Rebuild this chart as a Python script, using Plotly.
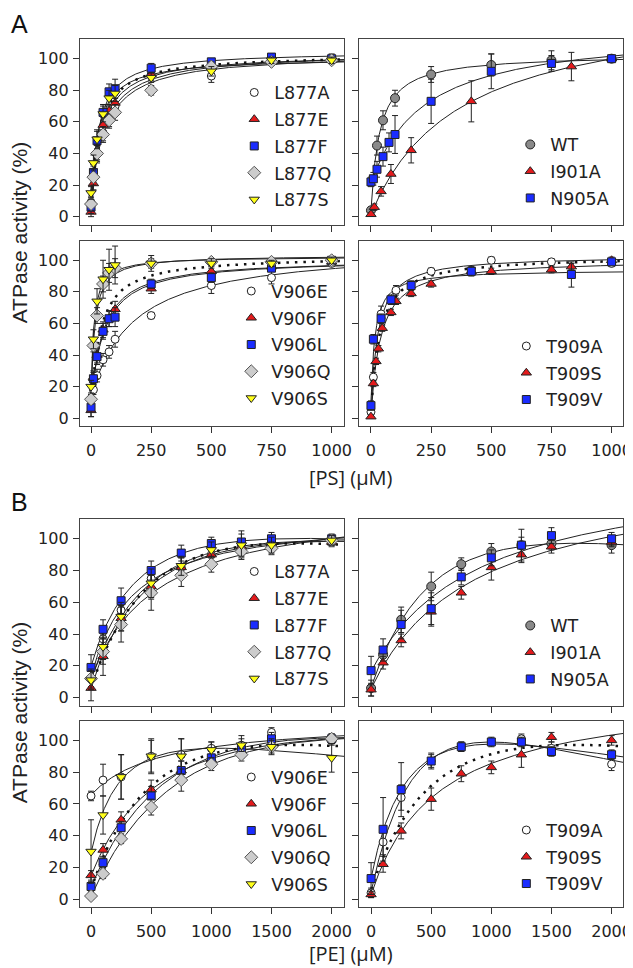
import numpy as np
import plotly.graph_objects as go

# ---------------- data ----------------
# Section A : [PS] (µM)
ps_x = [0, 10, 25, 50, 75, 100, 250, 500, 750, 1000]

L877A_ps = [9, 27, 40, 53, 62, 70, 90, 89, 100, 100]
L877A_ps_err = [4, 5, 5, 5, 5, 5, 4, 4, 3, 3]
L877E_ps = [3, 21, 41, 58, 67, 72, 90, 95, 98, 99]
L877E_ps_err = [3, 4, 5, 5, 4, 5, 3, 3, 2, 2]
L877F_ps = [6, 28, 48, 66, 79, 81, 94, 98, 101, 100]
L877F_ps_err = [4, 5, 6, 5, 5, 6, 3, 2, 2, 2]
L877Q_ps = [8, 25, 40, 52, 61, 66, 80, 95, 98, 99]
L877Q_ps_err = [4, 5, 6, 5, 5, 5, 3, 3, 2, 2]
L877S_ps = [15, 34, 49, 65, 75, 78, 88, 92, 99, 99]
L877S_ps_err = [4, 5, 6, 5, 5, 5, 3, 3, 2, 2]

WT_ps_x = [0, 25, 50, 100, 250, 500, 750, 1000]
WT_ps = [4, 45, 61, 75, 90, 96, 99, 100]
WT_ps_err = [2, 6, 6, 5, 5, 7, 6, 1]
I901A_ps_x = [0, 14, 42, 83, 167, 417, 833, 1000]
I901A_ps = [1.5, 6, 16, 27, 42, 73, 95, 100]
I901A_ps_err = [1, 2, 3, 6, 8, 13, 9, 1]
N905A_ps = [22, 24, 30, 38, 47, 52, 73, 92, 97, 100]
N905A_ps_err = [3, 4, 5, 6, 6, 12, 14, 11, 5, 1]

V906E_ps = [12, 18, 27, 37, 42, 50, 65, 84, 89, 98]
V906E_ps_err = [3, 3, 4, 4, 4, 5, 2, 5, 4, 2]
V906F_ps = [5, 26, 40, 56, 63, 69, 82, 93, 96, 99]
V906F_ps_err = [4, 4, 5, 5, 5, 5, 3, 3, 2, 2]
V906L_ps = [7, 25, 39, 55, 63, 64, 85, 89, 95, 100]
V906L_ps_err = [6, 4, 5, 5, 5, 6, 3, 3, 2, 2]
V906Q_ps = [12, 46, 65, 85, 92, 95, 98, 99, 99, 100]
V906Q_ps_err = [3, 4, 5, 5, 6, 6, 3, 2, 2, 2]
V906S_ps = [20, 50, 74, 88, 94, 97, 98, 98, 98, 100]
V906S_ps_err = [4, 6, 8, 12, 13, 12, 5, 3, 2, 2]

T909A_ps_x = [0, 10, 42, 104, 250, 500, 750, 1000]
T909A_ps = [4, 26, 66, 81, 93, 100, 99, 98]
T909A_ps_err = [2, 3, 5, 3, 2, 2, 2, 2]
T909S_ps_x = [0, 10, 21, 31, 47, 83, 104, 167, 250, 417, 500, 750, 833, 1000]
T909S_ps = [1, 22, 36, 44, 57, 67, 74, 79, 85, 93, 93, 94, 96, 100]
T909S_ps_err = [1, 2, 2, 2, 2, 2, 2, 2, 2, 2, 2, 2, 2, 2]
T909V_ps_x = [0, 10, 42, 83, 167, 417, 833, 1000]
T909V_ps = [8, 50, 63, 75, 84, 93, 91, 99]
T909V_ps_err = [3, 3, 3, 3, 3, 3, 8, 2]

# Section B : [PE] (µM)
pe_x = [0, 100, 250, 500, 750, 1000, 1250, 1500, 2000]

L877A_pe = [12, 37, 55, 75, 82, 90, 93, 97, 99]
L877A_pe_err = [5, 6, 7, 7, 6, 5, 5, 4, 3]
L877E_pe = [6, 26, 50, 70, 82, 90, 95, 97, 98]
L877E_pe_err = [8, 12, 8, 8, 6, 5, 5, 4, 3]
L877F_pe = [19, 43, 61, 80, 91, 97, 98, 100, 100]
L877F_pe_err = [8, 6, 8, 6, 5, 4, 7, 4, 3]
L877Q_pe = [12, 29, 46, 66, 77, 84, 92, 94, 99]
L877Q_pe_err = [6, 8, 11, 11, 7, 5, 5, 4, 3]
L877S_pe = [11, 32, 51, 72, 83, 93, 96, 96, 99]
L877S_pe_err = [6, 8, 9, 9, 6, 5, 7, 5, 3]

WT_pe = [6, 27, 49, 70, 84, 92, 96, 97, 96]
WT_pe_err = [5, 5, 8, 9, 4, 5, 5, 4, 5]
I901A_pe = [5, 22, 36, 54, 66, 82, 90, 95, 98]
I901A_pe_err = [4, 4, 4, 9, 4, 8, 5, 4, 3]
N905A_pe = [17, 30, 46, 56, 76, 88, 96, 102, 100]
N905A_pe_err = [9, 7, 9, 10, 5, 5, 10, 5, 4]

V906E_pe = [65, 75, 77, 90, 91, 95, 97, 105, 100]
V906E_pe_err = [3, 10, 14, 10, 10, 4, 6, 3, 3]
V906F_pe = [15, 31, 50, 69, 81, 88, 93, 98, 101]
V906F_pe_err = [3, 4, 5, 6, 6, 5, 4, 4, 3]
V906L_pe = [8, 23, 45, 65, 81, 89, 94, 101, 101]
V906L_pe_err = [3, 3, 4, 6, 6, 5, 4, 4, 3]
V906Q_pe = [2, 16, 38, 58, 75, 85, 91, 96, 101]
V906Q_pe_err = [2, 3, 3, 5, 7, 4, 4, 4, 3]
V906S_pe = [30, 53, 77, 90, 90, 94, 97, 96, 89]
V906S_pe_err = [20, 12, 14, 11, 11, 5, 4, 5, 9]

T909A_pe = [4, 36, 64, 87, 96, 99, 101, 95, 85]
T909A_pe_err = [3, 8, 8, 4, 3, 3, 3, 4, 4]
T909S_pe = [3, 22, 43, 63, 79, 83, 91, 102, 100]
T909S_pe_err = [2, 5, 5, 7, 5, 4, 8, 3, 3]
T909V_pe = [13, 44, 69, 87, 96, 99, 99, 93, 91]
T909V_pe_err = [10, 20, 17, 5, 3, 2, 3, 3, 3]

y_ticks = [0, 20, 40, 60, 80, 100]
ps_ticks = [0, 250, 500, 750, 1000]
pe_ticks = [0, 500, 1000, 1500, 2000]

# ---------------- styles ----------------
STY = {
    'open':   dict(symbol='circle', size=8, color='white', line=dict(color='#222', width=1)),
    'wt':     dict(symbol='circle', size=9, color='#8a8a8a', line=dict(color='#222', width=1)),
    'red':    dict(symbol='triangle-up', size=9, color='#e41a1c', line=dict(color='#222', width=1)),
    'blue':   dict(symbol='square', size=8, color='#1a2cff', line=dict(color='#222', width=1)),
    'gray':   dict(symbol='diamond', size=10, color='#cccccc', line=dict(color='#555', width=1)),
    'yellow': dict(symbol='triangle-down', size=9, color='#ffff1a', line=dict(color='#222', width=1)),
}

panels = [
    [('L877A', ps_x, L877A_ps, L877A_ps_err, 'open'), ('L877E', ps_x, L877E_ps, L877E_ps_err, 'red'),
     ('L877F', ps_x, L877F_ps, L877F_ps_err, 'blue'), ('L877Q', ps_x, L877Q_ps, L877Q_ps_err, 'gray'),
     ('L877S', ps_x, L877S_ps, L877S_ps_err, 'yellow')],
    [('WT', WT_ps_x, WT_ps, WT_ps_err, 'wt'), ('I901A', I901A_ps_x, I901A_ps, I901A_ps_err, 'red'),
     ('N905A', ps_x, N905A_ps, N905A_ps_err, 'blue')],
    [('V906E', ps_x, V906E_ps, V906E_ps_err, 'open'), ('V906F', ps_x, V906F_ps, V906F_ps_err, 'red'),
     ('V906L', ps_x, V906L_ps, V906L_ps_err, 'blue'), ('V906Q', ps_x, V906Q_ps, V906Q_ps_err, 'gray'),
     ('V906S', ps_x, V906S_ps, V906S_ps_err, 'yellow')],
    [('T909A', T909A_ps_x, T909A_ps, T909A_ps_err, 'open'), ('T909S', T909S_ps_x, T909S_ps, T909S_ps_err, 'red'),
     ('T909V', T909V_ps_x, T909V_ps, T909V_ps_err, 'blue')],
    [('L877A', pe_x, L877A_pe, L877A_pe_err, 'open'), ('L877E', pe_x, L877E_pe, L877E_pe_err, 'red'),
     ('L877F', pe_x, L877F_pe, L877F_pe_err, 'blue'), ('L877Q', pe_x, L877Q_pe, L877Q_pe_err, 'gray'),
     ('L877S', pe_x, L877S_pe, L877S_pe_err, 'yellow')],
    [('WT', pe_x, WT_pe, WT_pe_err, 'wt'), ('I901A', pe_x, I901A_pe, I901A_pe_err, 'red'),
     ('N905A', pe_x, N905A_pe, N905A_pe_err, 'blue')],
    [('V906E', pe_x, V906E_pe, V906E_pe_err, 'open'), ('V906F', pe_x, V906F_pe, V906F_pe_err, 'red'),
     ('V906L', pe_x, V906L_pe, V906L_pe_err, 'blue'), ('V906Q', pe_x, V906Q_pe, V906Q_pe_err, 'gray'),
     ('V906S', pe_x, V906S_pe, V906S_pe_err, 'yellow')],
    [('T909A', pe_x, T909A_pe, T909A_pe_err, 'open'), ('T909S', pe_x, T909S_pe, T909S_pe_err, 'red'),
     ('T909V', pe_x, T909V_pe, T909V_pe_err, 'blue')],
]
wt_ref = [(WT_ps_x, WT_ps), None, (WT_ps_x, WT_ps), (WT_ps_x, WT_ps),
          (pe_x, WT_pe), None, (pe_x, WT_pe), (pe_x, WT_pe)]


def fit_curve(x, y, xmax):
    """Hyperbolic (optionally substrate-inhibited) least-squares fit of the data."""
    x = np.asarray(x, float)
    y = np.asarray(y, float)
    K = np.logspace(-0.5, 4.2, 220)[:, None, None]
    inv = np.concatenate([[0.0], np.logspace(-7, -2, 70)])[None, :, None]
    f = x[None, None, :] / (K + x + inv * x ** 2)
    fm = f.mean(-1, keepdims=True)
    ym = y.mean()
    cov = ((f - fm) * (y - ym)).sum(-1)
    var = ((f - fm) ** 2).sum(-1) + 1e-12
    b = cov / var
    a = ym - b * fm[..., 0]
    pred = a[..., None] + b[..., None] * f
    sse = ((pred - y) ** 2).sum(-1)
    i0 = int(np.argmin(sse[:, 0]))
    best = (i0, 0)
    j = np.unravel_index(np.argmin(sse), sse.shape)
    if sse[j] < 0.3 * sse[i0, 0]:
        best = j
    Kb = K[best[0], 0, 0]
    ib = inv[0, best[1], 0]
    xs = np.linspace(0, xmax, 400)
    ys = a[best] + b[best] * xs / (Kb + xs + ib * xs ** 2)
    return xs, ys


W, H = 633, 968
TICKFONT = dict(size=16, family='DejaVu Sans', color='#222')
LEGFONT = dict(size=17.5, family='DejaVu Sans', color='#222')
TITLEFONT = dict(size=21, family='Arial', color='#222')

col_dom = [[73 / W, 341 / W], [356 / W, 624 / W]]
row_dom = [[1 - 217 / H, 1 - 31 / H], [1 - 419 / H, 1 - 233 / H],
           [1 - 699 / H, 1 - 512 / H], [1 - 901 / H, 1 - 714 / H]]
xr = {(0, 0): [-46, 1052], (0, 1): [-50, 1048], (1, 0): [-92, 2104], (1, 1): [-101, 2096]}
yr = [-5, 112.5]
# legend anchor (right edge px, bottom edge px) for each panel
leg_pos = [(333, 210), (615, 209), (333, 409), (610, 411),
           (333, 690), (615, 691), (333, 896), (610, 896)]

fig = go.Figure()
layout = dict(width=W, height=H, margin=dict(l=0, r=0, t=0, b=0),
              paper_bgcolor='white', plot_bgcolor='white', showlegend=True,
              font=dict(family='DejaVu Sans', color='#222'))

for k, series in enumerate(panels):
    row, col = divmod(k, 2)
    sec = 0 if row < 2 else 1
    xa = 'x' if k == 0 else f'x{k + 1}'
    ya = 'y' if k == 0 else f'y{k + 1}'
    lg = 'legend' if k == 0 else f'legend{k + 1}'
    rng = xr[(sec, col)]
    bottom = row in (1, 3)
    layout['xaxis' if k == 0 else f'xaxis{k + 1}'] = dict(
        domain=col_dom[col], range=rng, anchor=ya, tickvals=ps_ticks if sec == 0 else pe_ticks,
        showticklabels=bottom, ticks='outside', ticklen=6, tickwidth=1, tickcolor='#333',
        showline=True, linecolor='#444', linewidth=1.2, mirror=True, showgrid=False, zeroline=False,
        tickfont=TICKFONT, ticklabelstandoff=4)
    layout['yaxis' if k == 0 else f'yaxis{k + 1}'] = dict(
        domain=row_dom[row], range=yr, anchor=xa, tickvals=y_ticks, showticklabels=(col == 0),
        ticks='outside', ticklen=6, tickwidth=1, tickcolor='#333',
        showline=True, linecolor='#444', linewidth=1.2, mirror=True, showgrid=False, zeroline=False,
        tickfont=TICKFONT, ticklabelstandoff=1)
    rx, by = leg_pos[k]
    layout[lg] = dict(x=rx / W, y=1 - by / H, xanchor='right', yanchor='bottom',
                      bgcolor='rgba(0,0,0,0)', font=LEGFONT,
                      traceorder='grouped', tracegroupgap=1, itemwidth=30)

    for name, x, y, e, sty in series:
        xs, ys = fit_curve(x, y, rng[1])
        fig.add_trace(go.Scatter(x=xs, y=ys, mode='lines', line=dict(color='#222', width=1),
                                 xaxis=xa, yaxis=ya, showlegend=False, hoverinfo='skip'))
    if wt_ref[k] is not None:
        wx, wy = wt_ref[k]
        xs, ys = fit_curve(wx, wy, rng[1])
        fig.add_trace(go.Scatter(x=xs, y=ys, mode='lines',
                                 line=dict(color='#111', width=2.5, dash='2.5px,6px'),
                                 xaxis=xa, yaxis=ya, showlegend=False, hoverinfo='skip'))
    for name, x, y, e, sty in series:
        fig.add_trace(go.Scatter(
            x=x, y=y, mode='markers', name=name, marker=STY[sty], xaxis=xa, yaxis=ya,
            error_y=dict(type='data', array=e, visible=True, color='#222', thickness=1, width=3),
            legend=lg, legendgroup=f'{k}_{name}', showlegend=True))

annotations = [
    dict(text='A', x=12 / W, y=1 - 16 / H, font=dict(size=25, family='Arial', color='#111')),
    dict(text='B', x=12 / W, y=1 - 495 / H, font=dict(size=25, family='Arial', color='#111')),
    dict(text='ATPase activity (%)', x=12 / W, y=1 - 225 / H, textangle=-90, font=TITLEFONT),
    dict(text='ATPase activity (%)', x=12 / W, y=1 - 706 / H, textangle=-90, font=TITLEFONT),
    dict(text='[PS] (µM)', x=348 / W, y=1 - 470 / H, font=dict(size=20, family='Open Sans', color='#222')),
    dict(text='[PE] (µM)', x=348 / W, y=1 - 947 / H, font=dict(size=20, family='Open Sans', color='#222')),
]
for a in annotations:
    a.update(xref='paper', yref='paper', xanchor='center', yanchor='middle', showarrow=False)
layout['annotations'] = annotations

fig.update_layout(**layout)
fig.write_html('out.html')
